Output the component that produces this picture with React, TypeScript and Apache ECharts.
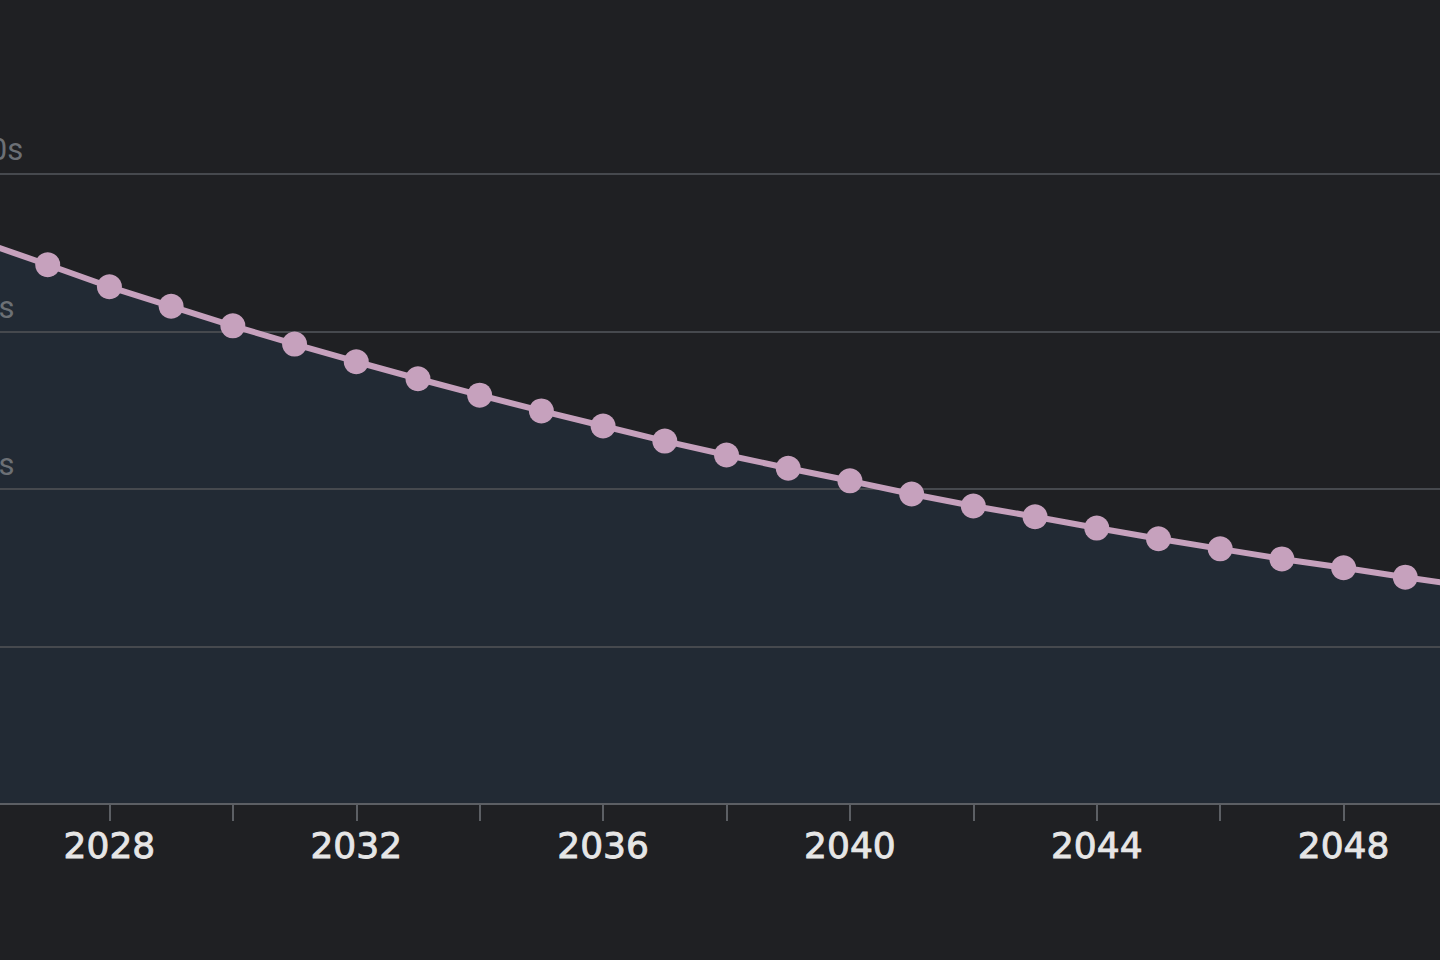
import React, { useEffect, useRef } from "react";
import * as echarts from "echarts";

const years = [2026, 2027, 2028, 2029, 2030, 2031, 2032, 2033, 2034, 2035, 2036, 2037, 2038, 2039, 2040, 2041, 2042, 2043, 2044, 2045, 2046, 2047, 2048, 2049, 2050];
const values = [89.0, 85.6, 82.1, 79.0, 75.9, 73.0, 70.2, 67.5, 64.9, 62.4, 60.0, 57.6, 55.4, 53.3, 51.3, 49.2, 47.3, 45.6, 43.8, 42.1, 40.5, 38.9, 37.5, 36.0, 34.6];
const yTickLabels: Record<number, string> = { 0: "", 25: "", 50: "50s", 75: "75s", 100: "100s" };

export default function App() {
  const ref = useRef<HTMLDivElement>(null);
  useEffect(() => {
    if (!ref.current) return;
    const chart = echarts.init(ref.current, undefined, { renderer: "svg" });
    const data = years.map((y, i) => [y, values[i]]);
    chart.setOption({
      animation: false,
      backgroundColor: "#1f2023",
      grid: { left: 86, right: 73, top: 174, bottom: 156 },
      xAxis: {
        type: "value",
        z: 2,
        min: 2026,
        max: 2050,
        interval: 2,
        axisLine: { show: true, onZero: false, lineStyle: { color: "#5c5f64", width: 2 } },
        axisTick: { show: true, length: 17, lineStyle: { color: "#5c5f64", width: 2 } },
        splitLine: { show: false },
        axisLabel: {
          color: "#e6e6e6",
          fontFamily: "DejaVu Sans",
          fontSize: 36,
          margin: 23,
          textBorderColor: "#e6e6e6",
          textBorderWidth: 0.9,
          formatter: (v: number) => (v % 4 === 0 ? String(v) : ""),
        },
      },
      yAxis: {
        type: "value",
        z: 2,
        min: 0,
        max: 100,
        interval: 25,
        axisLine: { show: false },
        axisTick: { show: false },
        splitLine: { show: true, lineStyle: { color: "#46494e", width: 2 } },
        axisLabel: {
          inside: true,
          align: "center",
          verticalAlign: "bottom",
          margin: 3,
          padding: [0, 0, 9, 0],
          color: "#6c7075",
          fontFamily: "Roboto",
          fontSize: 31,
          formatter: (v: number) => yTickLabels[v] ?? "",
        },
      },
      series: [
        {
          type: "line",
          z: 1,
          data,
          symbol: "none",
          lineStyle: { width: 0, opacity: 0 },
          areaStyle: { color: "#222a34", opacity: 1 },
          silent: true,
        },
        {
          type: "line",
          z: 3,
          data,
          symbol: "circle",
          symbolSize: 25,
          lineStyle: { color: "#c6a1bd", width: 6 },
          itemStyle: { color: "#c6a1bd" },
        },
      ],
    });
    return () => chart.dispose();
  }, []);
  return (
    <div style={{ position: "fixed", left: 0, top: 0, width: 1440, height: 960, overflow: "hidden", background: "#1f2023" }}>
      <div ref={ref} style={{ position: "absolute", left: -100, top: 0, width: 1640, height: 960 }} />
    </div>
  );
}
